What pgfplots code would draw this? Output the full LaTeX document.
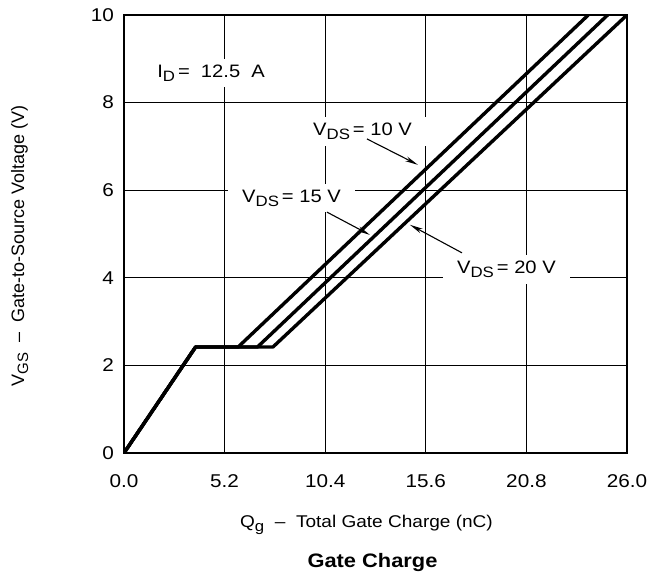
\documentclass[border=0pt]{standalone}
\usepackage{graphicx}
\usepackage{pgfplots}
\pgfplotsset{compat=1.18}
\usepackage{fontspec}
\setmainfont{Liberation Sans}[FakeStretch=1.12]
\newfontfamily\plainfont{Liberation Sans}[Ligatures=TeX]
\usetikzlibrary{arrows.meta}
\newcommand\sub[1]{\raisebox{-4pt}{\fontsize{15}{15}\selectfont #1}}
\tikzset{lbl/.style={fill=white, inner xsep=14pt, inner ysep=6pt, anchor=base west, xshift=-14pt, font=\fontsize{18}{20}\selectfont}}
\begin{document}
\begin{tikzpicture}[x=1pt,y=1pt]
\path[use as bounding box] (0,0) rectangle (649,578);
\begin{axis}[
  scale only axis, width=503pt, height=438pt,
  at={(124pt,125pt)}, anchor=south west,
  xmin=0, xmax=26, ymin=0, ymax=10,
  xtick={0,5.2,10.4,15.6,20.8,26},
  xticklabels={0.0,5.2,10.4,15.6,20.8,26.0},
  ytick={0,2,4,6,8,10},
  grid=major,
  major grid style={black, line width=1.2pt},
  major tick length=0pt,
  tick style={draw=none},
  axis line style={black, line width=1.6pt},
  /pgf/number format/assume math mode=true,
  ticklabel style={font=\fontsize{18.5}{20}\selectfont, inner sep=0pt},
  xticklabel style={anchor=center, yshift=-28pt},
  yticklabel style={anchor=east, xshift=-10pt},
  clip=true,
]
\addplot[black, line width=3.4pt, line join=round, line cap=round] coordinates {(0,0) (3.7,2.42) (5.9,2.42) (24.0,10)};
\addplot[black, line width=3.4pt, line join=round, line cap=round] coordinates {(0,0) (3.7,2.42) (6.9,2.42) (25.0,10)};
\addplot[black, line width=3.4pt, line join=round, line cap=round] coordinates {(0,0) (3.7,2.42) (7.7,2.42) (26.0,10)};

\node[lbl] at (axis cs:1.71,8.58) {I\sub{D}\,= \ 12.5 \ A};
\node[lbl] at (axis cs:9.77,7.24) {V\sub{DS}\,= 10 V};
\node[lbl] at (axis cs:6.10,5.73) {V\sub{DS}\,= 15 V};
\node[lbl] at (axis cs:17.21,4.09) {V\sub{DS}\,= 20 V};

\draw[line width=1.1pt, -{Stealth[length=13pt,width=5pt]}] (axis cs:12.56,7.17) -- (axis cs:15.19,6.58);
\draw[line width=1.1pt, -{Stealth[length=13pt,width=5pt]}] (axis cs:10.49,5.50) -- (axis cs:12.71,4.98);
\draw[line width=1.1pt, -{Stealth[length=13pt,width=5pt]}] (axis cs:17.47,4.57) -- (axis cs:14.78,5.21);
\end{axis}
\node[anchor=base, font=\fontsize{17}{20}\selectfont] at (366.5,50) {Q\sub{g}\ \ --\ \ Total Gate Charge (nC)};
\node[anchor=base, font=\fontsize{19.5}{22}\selectfont\bfseries] at (372.5,10) {Gate Charge};
\node[anchor=base, rotate=90, font=\plainfont\fontsize{18}{20}\selectfont] at (24,332) {V\sub{GS}\ \ --\ \ Gate-to-Source Voltage (V)};
\end{tikzpicture}
\end{document}
